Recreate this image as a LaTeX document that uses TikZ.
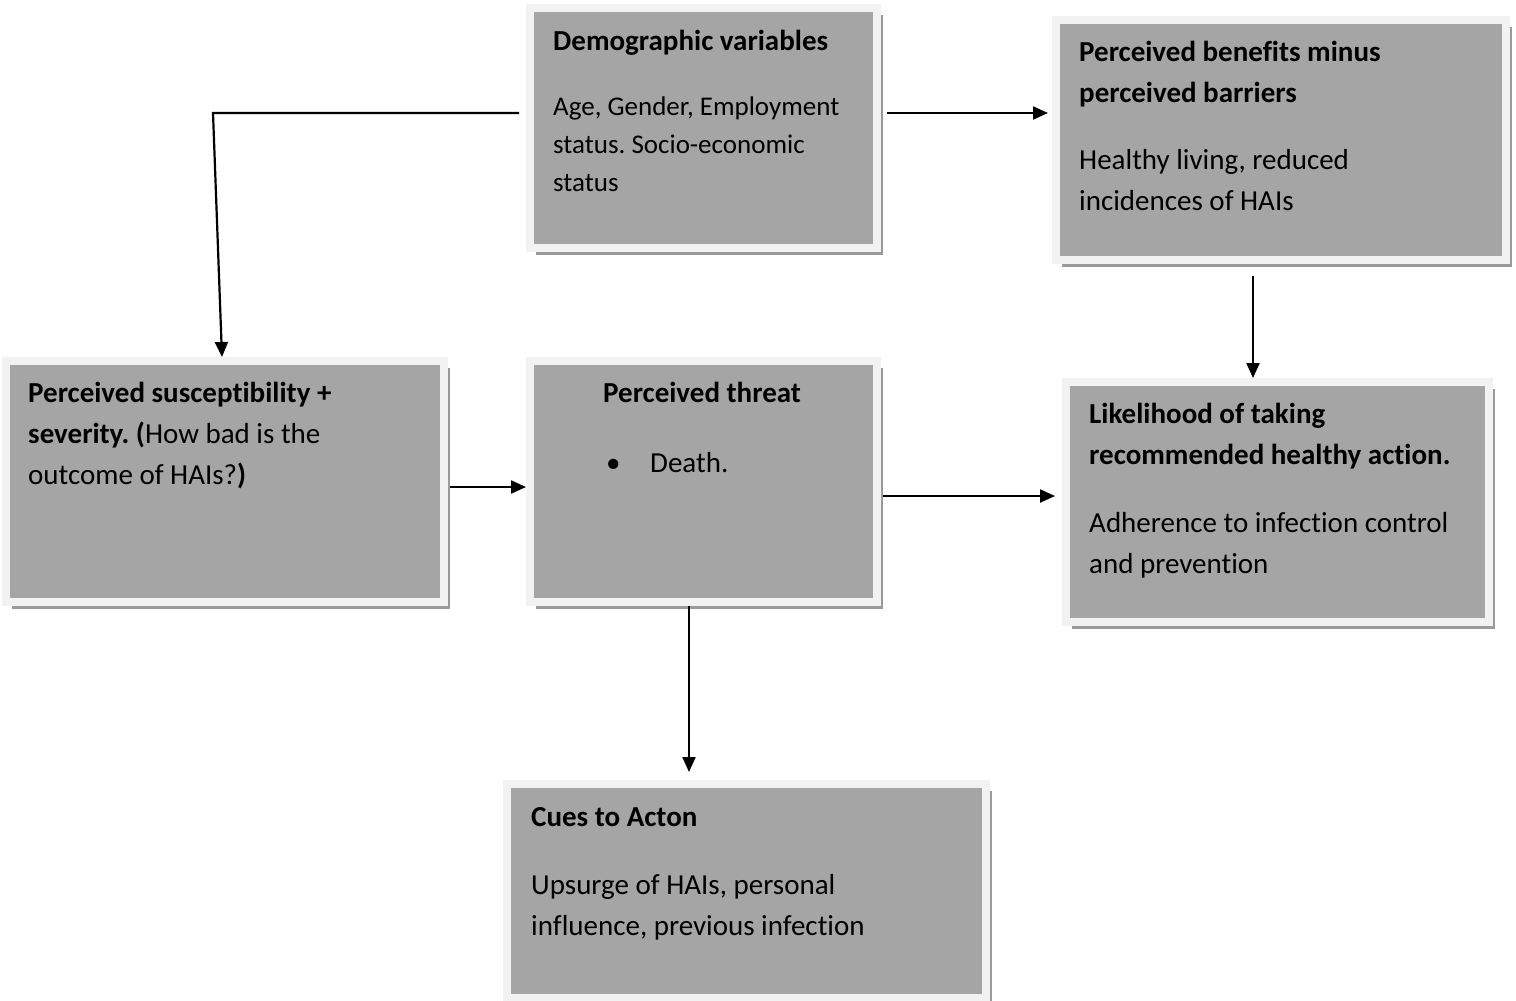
\documentclass[tikz,border=0pt]{standalone}
\usepackage{fontspec}
\setmainfont{Carlito}[Ligatures=NoCommon]
\frenchspacing
\usetikzlibrary{arrows.meta,shadows}

\definecolor{boxgray}{HTML}{A5A5A5}
\definecolor{framegray}{HTML}{F2F2F2}
\definecolor{shadowgray}{HTML}{9A9A9A}

\tikzset{
  box/.style={rectangle, inner sep=0pt, line width=8pt, draw=framegray, fill=boxgray,
    drop shadow={shadow xshift=6pt, shadow yshift=-7pt, fill=shadowgray, opacity=1}},
  title/.style={anchor=base west, inner sep=0pt, align=left, font=\fontsize{29}{41}\selectfont\bfseries},
  body/.style={anchor=base west, inner sep=0pt, align=left, font=\fontsize{29}{41}\selectfont},
  conn/.style={line width=2.2pt, -{Triangle[length=15pt,width=13pt]}}
}

\begin{document}
\begin{tikzpicture}[x=1pt,y=1pt]
\useasboundingbox[fill=white] (0,0) rectangle (1516,-1001);

\foreach \n/\x/\y/\w/\h in {demo/703.5/-128/347/240, benefit/1281/-140/450/240,
  suscept/225/-481.5/438/241, threat/703.5/-481.5/347/241,
  likely/1277.5/-502/423/240, cues/746.5/-891/479/214}
  \node[box, minimum width=\w pt, minimum height=\h pt] (\n) at (\x,\y) {};

\node[title] (demo-t) at ([shift={(27,-46)}]demo.north west) {Demographic variables};
\node[body, font=\fontsize{27}{38}\selectfont] (demo-b) at ([shift={(27,-187)}]demo.north west)
  {Age, Gender, Employment\\ status. Socio-economic\\ status};

\node[title] (benefit-t) at ([shift={(27,-86)}]benefit.north west)
  {Perceived benefits minus\\ perceived barriers};
\node[body] (benefit-b) at ([shift={(27,-194)}]benefit.north west)
  {Healthy living, reduced\\ incidences of HAIs};

\node[body] (suscept-t) at ([shift={(26,-127)}]suscept.north west)
  {\textbf{Perceived susceptibility +}\\ \textbf{severity. (}How bad is the\\ outcome of HAIs?\textbf{)}};

\node[title] (threat-t) at ([shift={(77,-45)}]threat.north west) {Perceived threat};
\node[body] (threat-b) at ([shift={(80,-115)}]threat.north west)
  {\makebox[44pt][l]{\textbullet}Death.};

\node[title] (likely-t) at ([shift={(27,-86)}]likely.north west)
  {Likelihood of taking\\ recommended healthy action.};
\node[body] (likely-b) at ([shift={(27,-195)}]likely.north west)
  {Adherence to infection control\\ and prevention};

\node[title] (cues-t) at ([shift={(28,-46)}]cues.north west) {Cues to Acton};
\node[body] (cues-b) at ([shift={(28,-155)}]cues.north west)
  {Upsurge of HAIs, personal\\ influence, previous infection};

\coordinate (demo-w) at ([shift={(-7,15)}]demo.west);
\coordinate (bend) at (213,-113);
\coordinate (demo-e) at ([shift={(6,15)}]demo.east);
\coordinate (benefit-s) at ([xshift=-28]benefit.south);
\coordinate (suscept-e) at ([yshift=-5.5]suscept.east);
\coordinate (threat-e) at ([yshift=-14.5]threat.east);
\coordinate (threat-s) at ([xshift=-14.5]threat.south);

\draw[conn] (demo-w) -- (bend) -- ([xshift=-3]suscept.north);
\draw[conn, shorten >=4pt] (demo-e) -- (demo-e -| benefit.west);
\draw[conn, shorten <=12pt] (benefit-s) -- (benefit-s |- likely.north);
\draw[conn, shorten <=2pt] (suscept-e) -- (suscept-e -| threat.west);
\draw[conn, shorten <=2pt, shorten >=7pt] (threat-e) -- (threat-e -| likely.west);
\draw[conn, shorten >=8pt] (threat-s) -- (threat-s |- cues.north);
\end{tikzpicture}
\end{document}
